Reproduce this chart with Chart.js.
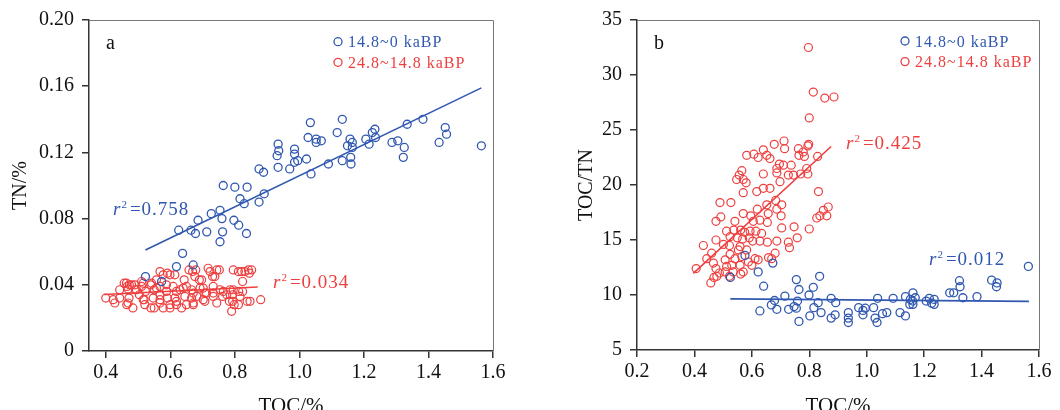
<!DOCTYPE html>
<html>
<head>
<meta charset="utf-8">
<script src="https://cdn.jsdelivr.net/npm/chart.js@4.4.1/dist/chart.umd.min.js"></script>
<style>
  body { margin: 0; background: #fff; }
  #wrap { position: relative; width: 1060px; height: 410px; }
  canvas { position: absolute; top: 0; }
</style>
</head>
<body>
<div id="wrap">
  <canvas id="chartA" width="530" height="410" style="left:0"></canvas>
  <canvas id="chartB" width="530" height="410" style="left:530px"></canvas>
</div>
<script>
// ---- panel a : TOC vs TN ----
var aBlueToc = [0.523,0.573,0.619,0.638,0.671,0.626,0.664,0.678,0.686,0.713,0.727,0.754,0.760,0.762,0.754,0.764,0.800,0.797,0.812,0.816,0.829,0.838,0.836,0.875,0.891,0.875,0.889,0.934,0.936,0.931,0.934,0.970,0.985,0.985,0.985,0.995,1.022,1.036,1.027,1.034,1.052,1.052,1.068,1.090,1.117,1.133,1.133,1.149,1.157,1.159,1.160,1.164,1.164,1.206,1.216,1.226,1.234,1.236,1.287,1.305,1.325,1.322,1.334,1.383,1.433,1.452,1.456,1.564];
var aBlueTn  = [0.045,0.042,0.051,0.059,0.052,0.073,0.073,0.071,0.079,0.072,0.083,0.085,0.080,0.072,0.066,0.100,0.099,0.079,0.076,0.092,0.089,0.099,0.071,0.090,0.095,0.110,0.108,0.125,0.121,0.118,0.111,0.110,0.122,0.119,0.114,0.115,0.116,0.107,0.129,0.138,0.128,0.126,0.127,0.113,0.132,0.140,0.115,0.124,0.128,0.117,0.113,0.123,0.126,0.128,0.125,0.132,0.134,0.129,0.126,0.127,0.123,0.117,0.137,0.140,0.126,0.135,0.131,0.124];

var aRedToc = [0.400,0.428,0.443,0.457,0.469,0.472,0.469,0.484,0.473,0.490,0.492,0.504,0.516,0.523,0.519,0.521,0.540,0.550,0.547,0.550,0.540,0.568,0.557,0.568,0.568,0.568,0.578,0.591,0.588,0.588,0.591,0.599,0.614,0.609,0.619,0.614,0.619,0.635,0.643,0.640,0.645,0.650,0.666,0.666,
  0.723,0.752,0.738,0.795,0.821,0.831,0.852,0.845,0.824,0.697,0.702,0.676,0.679,0.671,0.682,0.707,0.707,0.733,0.733,0.762,0.764,0.785,0.793,0.793,0.811,0.790,0.824,0.847,0.880,
  0.466,0.465,0.511,0.578,0.599,0.658,0.669,0.690,0.717,0.731,0.744,0.811,0.842,0.812,0.838,0.798,0.783,
  0.464,0.480,0.495,0.511,0.542,0.557,0.630,0.650,0.671,0.692,0.712,0.733,0.754,0.775,0.795,0.816,0.443,0.423,0.516,0.568,0.619,0.702,0.744,0.599,0.671];
var aRedTn = [0.032,0.029,0.037,0.041,0.0375,0.032,0.029,0.026,0.040,0.040,0.037,0.034,0.041,0.036,0.031,0.028,0.026,0.026,0.032,0.037,0.040,0.048,0.043,0.039,0.034,0.029,0.026,0.047,0.040,0.036,0.032,0.028,0.046,0.039,0.036,0.032,0.028,0.026,0.043,0.038,0.033,0.028,0.037,0.032,
  0.048,0.049,0.045,0.049,0.048,0.048,0.049,0.047,0.042,0.043,0.038,0.045,0.049,0.029,0.033,0.035,0.030,0.035,0.033,0.033,0.036,0.037,0.034,0.030,0.028,0.024,0.036,0.030,0.031,
  0.039,0.028,0.042,0.046,0.046,0.049,0.048,0.043,0.050,0.045,0.049,0.048,0.049,0.036,0.030,0.028,0.030,
  0.041,0.040,0.037,0.039,0.041,0.038,0.037,0.039,0.035,0.038,0.035,0.039,0.037,0.034,0.037,0.033,0.032,0.031,0.031,0.031,0.030,0.031,0.029,0.026,0.028];

var aBlueFitX = [0.523, 1.564];
var aBlueFitY = [0.061, 0.159];
var aRedFitX = [0.395, 0.871];
var aRedFitY = [0.0341, 0.0387];

var aXTicks = [0.4, 0.6, 0.8, 1.0, 1.2, 1.4, 1.6];
var aXLabels = ['0.4', '0.6', '0.8', '1.0', '1.2', '1.4', '1.6'];
var aYTicks = [0, 0.04, 0.08, 0.12, 0.16, 0.20];
var aYLabels = ['0', '0.04', '0.08', '0.12', '0.16', '0.20'];

// ---- panel b : TOC vs TOC/TN ----
var bBlueToc = [0.576,0.673,0.525,0.622,0.641,0.628,0.668,0.679,0.687,0.715,0.728,0.747,0.755,0.764,0.759,0.755,0.764,0.799,0.814,0.816,0.802,0.836,0.831,0.841,0.876,0.892,0.890,0.876,0.936,0.936,0.936,0.972,0.987,0.987,0.995,1.024,1.029,1.036,1.038,1.055,1.070,1.092,1.116,1.135,1.135,1.152,1.161,1.161,1.160,1.169,1.150,1.207,1.218,1.226,1.235,1.235,1.289,1.303,1.323,1.325,1.335,1.384,1.435,1.454,1.452,1.563];
var bBlueRatio = [13.6,12.9,11.6,12.1,10.8,8.55,9.1,9.5,8.7,9.9,8.7,8.95,11.4,10.5,9.45,8.8,7.6,10.0,10.7,8.85,8.1,11.7,9.3,8.4,9.7,9.3,8.2,7.9,8.4,7.9,7.5,8.85,8.6,8.2,8.8,8.85,7.9,7.5,9.7,8.3,8.4,9.7,8.4,8.1,9.85,9.6,10.2,9.15,9.45,9.75,9.15,9.45,9.7,9.25,9.6,9.15,10.2,10.2,11.3,10.75,9.75,9.85,11.35,11.1,10.75,12.6];

var bRedToc = [0.797,0.814,0.854,0.886,0.800,0.678,0.712,0.714,0.798,0.795,0.762,0.779,0.764,0.783,0.582,0.607,0.640,0.652,0.622,0.663,0.829,
  0.696,0.687,0.710,0.737,0.687,0.698,0.727,0.745,0.770,0.791,0.795,0.640,0.565,0.556,0.547,0.570,0.580,0.640,0.617,0.663,0.570,0.832,0.489,0.527,0.570,0.492,0.475,0.619,0.652,0.657,0.683,0.704,0.687,0.702,0.596,0.605,0.628,0.654,0.541,
  0.512,0.537,0.561,0.575,0.594,0.614,0.634,0.524,0.549,0.568,0.591,0.603,0.475,0.431,0.501,0.522,0.559,0.628,0.654,0.687,0.704,0.727,0.731,0.758,0.747,0.800,0.826,0.837,0.849,0.861,0.866,
  0.460,0.443,0.406,0.466,0.475,0.487,0.507,0.524,0.512,0.530,0.541,0.553,0.565,0.582,0.559,0.570,0.588,0.600,0.622,0.669,0.681,0.507,0.535,0.478,0.522,
  0.457,0.468,0.561,0.658,0.611];
var bRedRatio = [32.5,28.45,27.9,28.0,26.1,23.7,24.0,23.3,23.7,23.55,23.3,23.0,22.7,22.6,22.7,22.8,23.2,22.7,22.5,22.4,22.6,
  21.9,21.5,21.8,21.8,21.1,20.3,20.9,20.9,21.0,21.5,21.0,21.0,21.3,20.9,20.5,20.5,20.2,19.7,19.4,19.7,19.3,19.4,18.4,18.4,17.4,17.1,16.7,17.8,18.2,17.4,18.6,18.2,17.8,17.2,17.2,16.7,16.8,16.6,16.7,
  15.8,15.9,15.9,15.7,15.8,15.8,15.6,15.3,15.2,15.1,15.2,14.9,15.0,14.5,14.6,14.5,14.4,14.9,14.8,14.9,16.1,14.8,14.3,15.2,16.2,16.0,17.0,17.2,17.7,17.2,18.0,
  13.8,13.3,12.4,12.9,12.4,12.0,13.2,13.7,12.6,12.7,13.3,14.1,13.5,14.1,12.7,12.1,13.0,12.7,13.2,13.3,13.8,12.1,12.1,11.7,11.7,
  11.1,11.6,11.9,13.4,13.3];

var bBlueFitX = [0.525, 1.565];
var bBlueFitY = [9.65, 9.42];
var bRedFitX = [0.396, 0.876];
var bRedFitY = [11.97, 23.5];

var bXTicks = [0.2, 0.4, 0.6, 0.8, 1.0, 1.2, 1.4, 1.6];
var bXLabels = ['0.2', '0.4', '0.6', '0.8', '1.0', '1.2', '1.4', '1.6'];
var bYTicks = [5, 10, 15, 20, 25, 30, 35];
var bYLabels = ['5', '10', '15', '20', '25', '30', '35'];

var seriesNames = ['14.8~0 kaBP', '24.8~14.8 kaBP'];

var BLUE = 'rgb(48,88,176)';
var RED = 'rgb(238,62,62)';
var SERIF = '"Liberation Serif", "Times New Roman", serif';

function pts(xs, ys) {
    return xs.map(function (x, i) { return {x: x, y: ys[i]}; });
}

// letters, legend, r^2 notes and the thin top/right frame
var deco = {
    id: 'deco',
    afterDraw: function (chart, args, o) {
        var ctx = chart.ctx;
        var area = chart.chartArea;
        ctx.save();
        ctx.strokeStyle = '#777';
        ctx.lineWidth = 1;
        ctx.beginPath();
        ctx.moveTo(area.left, area.top + 0.5);
        ctx.lineTo(area.right + 0.5, area.top + 0.5);
        ctx.lineTo(area.right + 0.5, area.bottom);
        ctx.stroke();

        ctx.fillStyle = '#111';
        ctx.font = '20px ' + SERIF;
        ctx.textBaseline = 'alphabetic';
        ctx.textAlign = 'left';
        ctx.fillText(o.letter, o.letterX, 49);

        // legend
        ctx.letterSpacing = '1px';
        ctx.font = '16px ' + SERIF;
        [BLUE, RED].forEach(function (c, i) {
            var cy = o.legY + i * 20.6;
            ctx.strokeStyle = c;
            ctx.lineWidth = 1.3;
            ctx.beginPath();
            ctx.arc(o.legX, cy, 4, 0, Math.PI * 2);
            ctx.stroke();
            ctx.fillStyle = c;
            ctx.fillText(seriesNames[i], o.legX + 10, cy + 5.5);
        });

        // r^2 labels
        o.notes.forEach(function (n) {
            ctx.fillStyle = n.color;
            var x = n.x;
            ctx.font = 'italic 19px ' + SERIF;
            ctx.fillText('r', x, n.y);
            x += ctx.measureText('r').width;
            ctx.font = '11px ' + SERIF;
            ctx.fillText('2', x, n.y - 7);
            x += ctx.measureText('2').width + 2;
            ctx.font = '19px ' + SERIF;
            ctx.fillText('=' + n.value, x, n.y);
        });
        ctx.restore();
    }
};

function makeChart(id, cfg) {
    var ctx = document.getElementById(id).getContext('2d');
    return new Chart(ctx, {
        type: 'scatter',
        data: {
            datasets: [
                {data: pts(cfg.blueFitX, cfg.blueFitY), showLine: true, borderColor: BLUE, borderWidth: 1.6, pointRadius: 0},
                {data: pts(cfg.redFitX, cfg.redFitY), showLine: true, borderColor: RED, borderWidth: 1.6, pointRadius: 0},
                {label: seriesNames[0], data: pts(cfg.blueX, cfg.blueY), borderColor: BLUE, backgroundColor: 'rgba(0,0,0,0)', pointRadius: 4, borderWidth: 1.3},
                {label: seriesNames[1], data: pts(cfg.redX, cfg.redY), borderColor: RED, backgroundColor: 'rgba(0,0,0,0)', pointRadius: 4, borderWidth: 1.2}
            ]
        },
        options: {
            responsive: false,
            animation: false,
            layout: {padding: {left: 0, top: 20, right: cfg.padRight, bottom: 0}},
            plugins: {
                legend: {display: false},
                tooltip: {enabled: false},
                deco: cfg.deco
            },
            scales: {
                x: {
                    type: 'linear',
                    min: cfg.xMin, max: cfg.xMax,
                    afterBuildTicks: function (s) { s.ticks = cfg.xTicks.map(function (v) { return {value: v}; }); },
                    afterFit: function (s) { s.height = cfg.xHeight; },
                    ticks: {
                        callback: function (v, i) { return cfg.xLabels[i]; },
                        font: {family: SERIF, size: 20}, color: '#111', padding: 3, maxRotation: 0
                    },
                    grid: {drawOnChartArea: false, drawTicks: true, tickLength: 7, color: '#333', lineWidth: 1.5},
                    border: {color: '#333', width: 1.5},
                    title: {display: true, text: 'TOC/%', font: {family: SERIF, size: 21}, color: '#111', padding: {top: 0, bottom: -9}}
                },
                y: {
                    type: 'linear',
                    min: cfg.yMin, max: cfg.yMax,
                    afterBuildTicks: function (s) { s.ticks = cfg.yTicks.map(function (v) { return {value: v}; }); },
                    afterFit: function (s) { s.width = cfg.yWidth; },
                    ticks: {
                        callback: function (v, i) { return cfg.yLabels[i]; },
                        font: {family: SERIF, size: 20}, color: '#111', padding: 8
                    },
                    grid: {drawOnChartArea: false, drawTicks: true, tickLength: 7, color: '#333', lineWidth: 1.5},
                    border: {color: '#333', width: 1.5},
                    title: {display: true, text: cfg.yTitle, font: {family: SERIF, size: 20}, color: '#111', padding: {top: cfg.yTitlePad, bottom: 0}}
                }
            }
        },
        plugins: [deco]
    });
}

makeChart('chartA', {
    blueX: aBlueToc, blueY: aBlueTn, redX: aRedToc, redY: aRedTn,
    blueFitX: aBlueFitX, blueFitY: aBlueFitY, redFitX: aRedFitX, redFitY: aRedFitY,
    xMin: 0.348, xMax: 1.6, yMin: 0, yMax: 0.2,
    xTicks: aXTicks, xLabels: aXLabels, yTicks: aYTicks, yLabels: aYLabels,
    padRight: 37, xHeight: 59, yWidth: 89, yTitle: 'TN/%', yTitlePad: 9,
    deco: {
        letter: 'a', letterX: 106, legX: 338, legY: 41.7,
        notes: [
            {value: '0.758', x: 113, y: 215, color: BLUE},
            {value: '0.034', x: 273, y: 288, color: RED}
        ]
    }
});

makeChart('chartB', {
    blueX: bBlueToc, blueY: bBlueRatio, redX: bRedToc, redY: bRedRatio,
    blueFitX: bBlueFitX, blueFitY: bBlueFitY, redFitX: bRedFitX, redFitY: bRedFitY,
    xMin: 0.2, xMax: 1.6, yMin: 5, yMax: 35,
    xTicks: bXTicks, xLabels: bXLabels, yTicks: bYTicks, yLabels: bYLabels,
    padRight: 21, xHeight: 60, yWidth: 107, yTitle: 'TOC/TN', yTitlePad: 45,
    deco: {
        letter: 'b', letterX: 124, legX: 375, legY: 41,
        notes: [
            {value: '0.425', x: 316, y: 149, color: RED},
            {value: '0.012', x: 399, y: 265, color: BLUE}
        ]
    }
});
</script>
</body>
</html>
